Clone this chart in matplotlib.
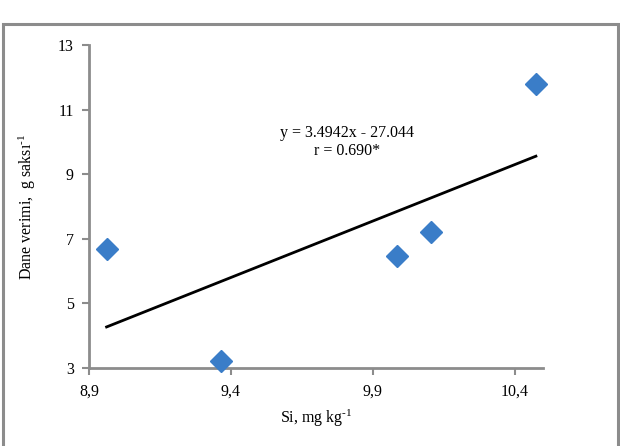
import numpy as np
import matplotlib.pyplot as plt
from matplotlib.patches import Rectangle

# data
si = [8.962, 9.364, 9.985, 10.105, 10.475]
verim = [6.68, 3.21, 6.48, 7.22, 11.79]
slope = 3.4942
intercept = -27.044
x_ticks = [8.9, 9.4, 9.9, 10.4]
x_labels = ['8,9', '9,4', '9,9', '10,4']
y_ticks = [3, 5, 7, 9, 11, 13]

plt.rcParams['font.family'] = ['Liberation Serif', 'DejaVu Serif']
plt.rcParams['mathtext.fontset'] = 'custom'
plt.rcParams['mathtext.rm'] = 'Liberation Serif'
plt.rcParams['mathtext.default'] = 'rm'
grey = '#8c8c8c'

fig = plt.figure(figsize=(6.2, 4.46), dpi=100)
ax = fig.add_axes([89/620, 78/446, 454/620, 323/446])

# outer frame (bottom edge is cut off in the original)
fig.patches.append(Rectangle((3/620, -0.05), 615/620, 1.05 - 24/446,
                             transform=fig.transFigure, fill=False,
                             edgecolor=grey, linewidth=2.2))

ax.plot(si, verim, linestyle='none', marker='D', markersize=11,
        color='#3a7dc8', zorder=3, clip_on=False)

xl = np.array([min(si), max(si)])
ax.plot(xl, slope*xl + intercept, color='black', linewidth=2, zorder=2)

ax.text(9.81, 10.0, 'y = 3.4942x - 27.044\nr = 0.690*', ha='center', va='center',
        fontsize=11.5, linespacing=1.15)

ax.set_xlim(8.9, 10.5)
ax.set_ylim(3, 13)
ax.set_xticks(x_ticks)
ax.set_xticklabels(x_labels)
ax.set_yticks(y_ticks)

for s in ['top', 'right']:
    ax.spines[s].set_visible(False)
for s in ['left', 'bottom']:
    ax.spines[s].set_color(grey)
    ax.spines[s].set_linewidth(2)
ax.tick_params(axis='both', direction='out', color=grey, width=1.5, length=5,
               labelsize=11.5, pad=6)

ax.set_xlabel(r'Si, mg kg$^{\text{-1}}$', fontsize=11.5, labelpad=6)
ax.set_ylabel(r'Dane verimi,  g saksı$^{\text{-1}}$', fontsize=11.5, labelpad=14)

fig.savefig('out.png', dpi=100)
